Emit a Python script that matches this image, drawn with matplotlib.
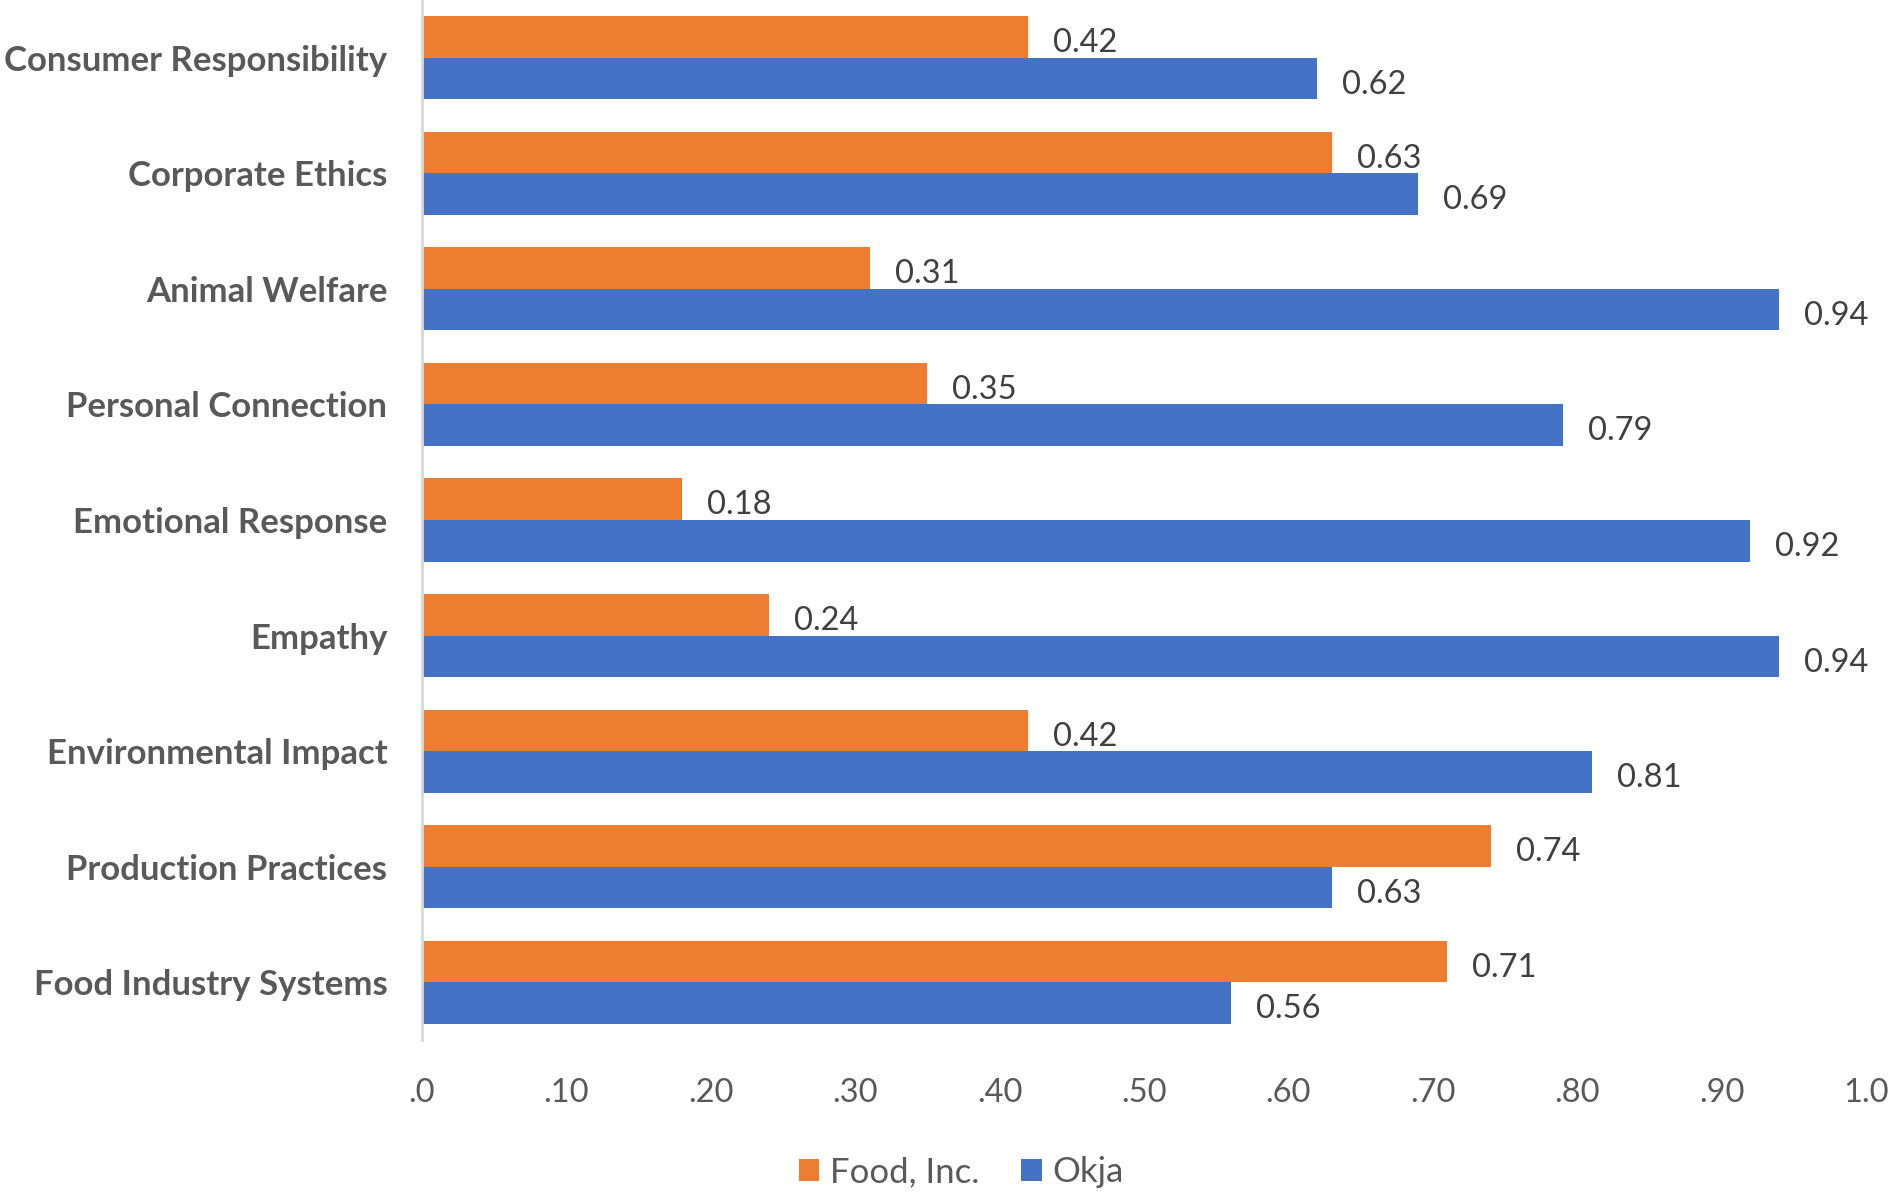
import matplotlib
matplotlib.use('Agg')
import matplotlib.pyplot as plt
import numpy as np

# category order, top to bottom
categories = ['Consumer Responsibility', 'Corporate Ethics', 'Animal Welfare',
              'Personal Connection', 'Emotional Response', 'Empathy',
              'Environmental Impact', 'Production Practices', 'Food Industry Systems']
food_inc = [0.42, 0.63, 0.31, 0.35, 0.18, 0.24, 0.42, 0.74, 0.71]
okja = [0.62, 0.69, 0.94, 0.79, 0.92, 0.94, 0.81, 0.63, 0.56]
xticks = [0.0, 0.1, 0.2, 0.3, 0.4, 0.5, 0.6, 0.7, 0.8, 0.9, 1.0]
xtick_labels = ['.0', '.10', '.20', '.30', '.40', '.50', '.60', '.70', '.80', '.90', '1.0']

plt.rcParams['font.family'] = ['Lato', 'DejaVu Sans']

fig = plt.figure(figsize=(18.92, 11.96), dpi=100)
ax = fig.add_axes([422 / 1892, 1 - 1040 / 1196, (1866 - 422) / 1892, 1040 / 1196])

y = np.arange(len(categories))
h = 0.36
b1 = ax.barh(y - h / 2, food_inc, height=h, color='#ED7D31', label='Food, Inc.')
b2 = ax.barh(y + h / 2, okja, height=h, color='#4472C4', label='Okja')

# value labels just right of each bar end
for yy, vals in ((y - h / 2, food_inc), (y + h / 2, okja)):
    for yi, v in zip(yy, vals):
        ax.annotate(f'{v:.2f}', (v, yi), xytext=(18, -4.5), textcoords='offset points',
                    va='center', ha='left', fontsize=23.5, color='#404040')

ax.set_ylim(len(categories) - 0.5, -0.5)
ax.set_xlim(0, 1.0)
ax.set_yticks(y)
ax.set_yticklabels(categories, fontsize=25, fontweight='bold', color='#595959')
ax.set_xticks(xticks)
ax.set_xticklabels(xtick_labels, fontsize=23.5, color='#595959')
ax.tick_params(axis='y', length=0, pad=25)
ax.tick_params(axis='x', length=0, pad=27)

for s in ['top', 'right', 'bottom']:
    ax.spines[s].set_visible(False)
ax.spines['left'].set_color('#d9d9d9')
ax.spines['left'].set_linewidth(2)

fig.legend(handles=[b1, b2], loc='center', bbox_to_anchor=(961 / 1892, 1 - 1172 / 1196),
           ncol=2, frameon=False, fontsize=25, handlelength=0.6, handleheight=0.6,
           handletextpad=0.3, columnspacing=1.2, labelcolor='#595959')

fig.savefig('out.png', dpi=100)
